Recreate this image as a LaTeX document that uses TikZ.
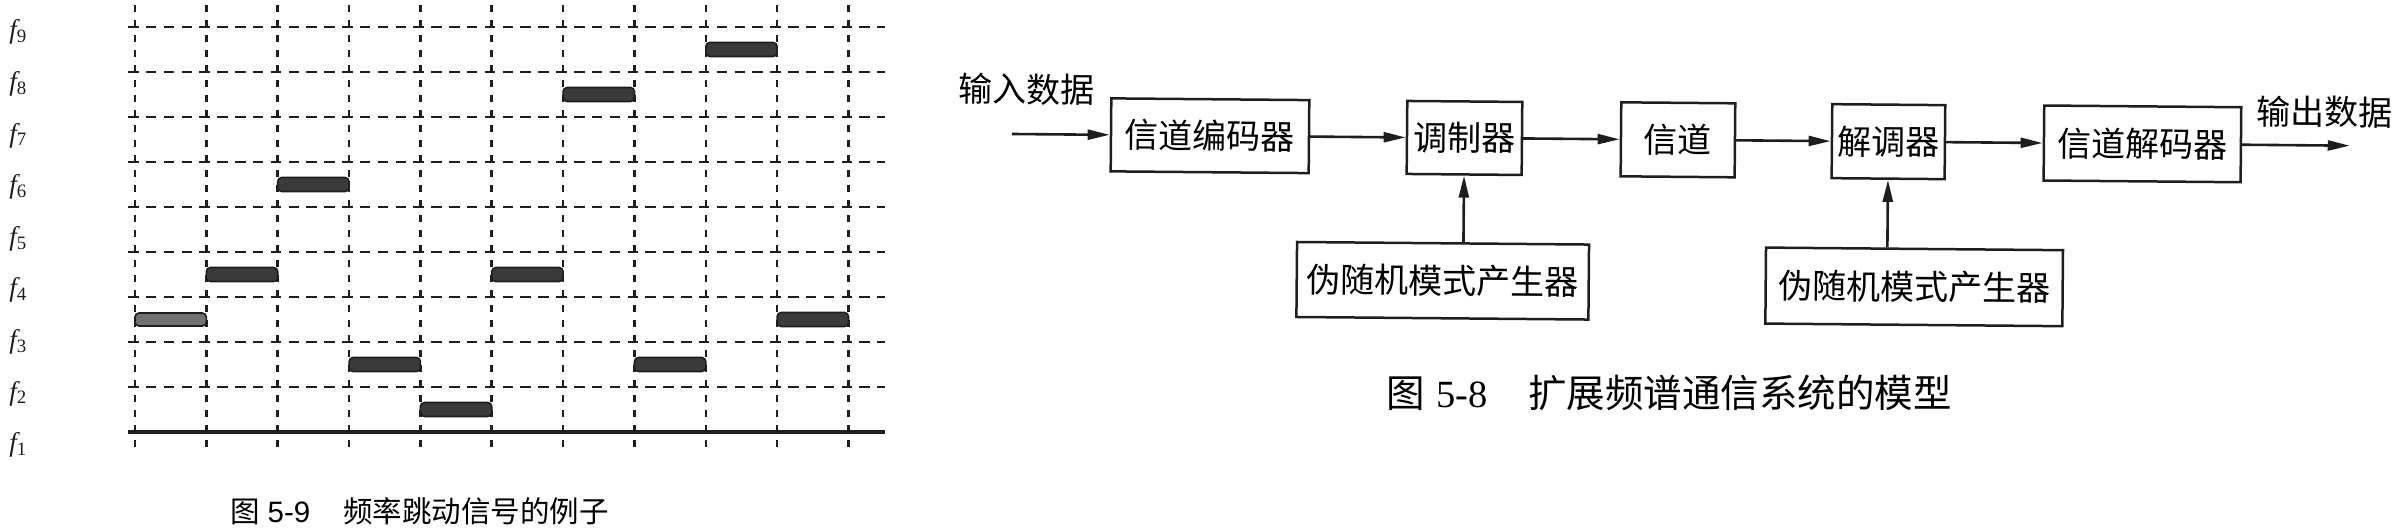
\documentclass[tikz,border=0pt]{standalone}
\usepackage{fontspec}
\setmainfont{Liberation Serif}
\newfontfamily\cjk{Noto Sans CJK SC}
\newfontfamily\sansnum{Liberation Sans}
\usetikzlibrary{arrows.meta}
\definecolor{ink}{HTML}{1E1E1E}
\definecolor{barfill}{HTML}{3A3A3A}
\definecolor{barlight}{HTML}{707070}
\begin{document}
\begin{tikzpicture}[x=1pt,y=-1pt,
  hline/.style={ink, line width=2.6pt, dash pattern=on 10.5pt off 7.34pt},
  vline/.style={ink, line width=2.6pt, dash pattern=on 7pt off 8pt},
  baseline/.style={ink, line width=4pt},
  bar/.style={draw=ink, line width=1.6pt, rounded corners=4pt, fill=barfill},
  blk/.style={draw=ink, line width=2.5pt, inner sep=0pt, font=\cjk\fontsize{34}{40}\selectfont},
  flow/.style={ink, line width=2.6pt, -{Triangle[length=22pt,width=10pt]}},
  lbl/.style={inner sep=0pt, font=\cjk\fontsize{34}{40}\selectfont},
  flab/.style={inner sep=0pt, text=ink, font=\fontsize{27}{30}\selectfont}
]
\useasboundingbox (0,0) rectangle (2395,528);
% ---------- left chart ----------
\foreach \j in {1,...,9}
  \draw[hline] (128,{432-45*\j}) -- (885,{432-45*\j});
\draw[baseline] (128,432) -- (885,432);
\foreach \k in {0,...,10}
  \draw[vline] ({135+71.35*\k},5) -- ({135+71.35*\k},448);
\foreach \i in {1,...,9}
  \node[flab] (f\i) at (18,{445-51.6*(\i-1)}) {{\itshape f}\textsubscript{\i}};
\draw[bar, fill=barlight] (135,{432-45*2.5-6.5}) rectangle (206.35,{432-45*2.5+6.5});
\foreach \k/\g in {1/4,2/6,3/2,4/1,5/4,6/8,7/2,8/9,9/3}
  \draw[bar] ({135+71.35*\k},{432-45*(\g-0.5)-7}) rectangle ({135+71.35*(\k+1)},{432-45*(\g-0.5)+7});
\node[anchor=west, inner sep=0pt, font=\fontsize{29.5}{34}\selectfont] (capL) at (230,511)
  {\cjk 图\hspace{8pt}\sansnum 5-9\hspace{33pt}\cjk 频率跳动信号的例子};
% ---------- right block diagram ----------
\begin{scope}[rotate around={-0.5:(1012,134)}, transform shape]
  \node[blk, minimum width=198pt, minimum height=73pt] (enc) at (1210,134) {信道编码器};
  \node[blk, minimum width=115pt, minimum height=73pt] (mod) at (1464.5,134) {调制器};
  \node[blk, minimum width=114pt, minimum height=74pt] (ch) at (1678,134) {信道};
  \node[blk, minimum width=113pt, minimum height=74pt] (dem) at (1888.5,134) {解调器};
  \node[blk, minimum width=197pt, minimum height=75pt] (dec) at (2142.5,134) {信道解码器};
  \node[blk, minimum width=292pt, minimum height=75pt] (pr1) at (1444,277) {伪随机模式产生器};
  \node[blk, minimum width=297pt, minimum height=76pt] (pr2) at (1915.5,279) {伪随机模式产生器};
  \node[lbl] (inlab) at (1026,89) {输入数据};
  \node[lbl] (outlab) at (2324,100.5) {输出数据};
  \coordinate (in) at (1012,134);
  \coordinate (out) at (2350,134);
  \draw[flow] (in) -- (enc);
  \draw[flow] (enc) -- (mod);
  \draw[flow] (mod) -- (ch);
  \draw[flow] (ch) -- (dem);
  \draw[flow] (dem) -- (dec);
  \draw[flow] (dec) -- (out);
  \draw[flow] (mod |- pr1.north) -- (mod.south);
  \draw[flow] (dem |- pr2.north) -- (dem.south);
\end{scope}
\node[anchor=west, inner sep=0pt, font=\fontsize{38.5}{44}\selectfont] (capR) at (1386,393)
  {\cjk 图\hspace{12pt}\rmfamily 5-8\hspace{40pt}\cjk 扩展频谱通信系统的模型};
\end{tikzpicture}
\end{document}
